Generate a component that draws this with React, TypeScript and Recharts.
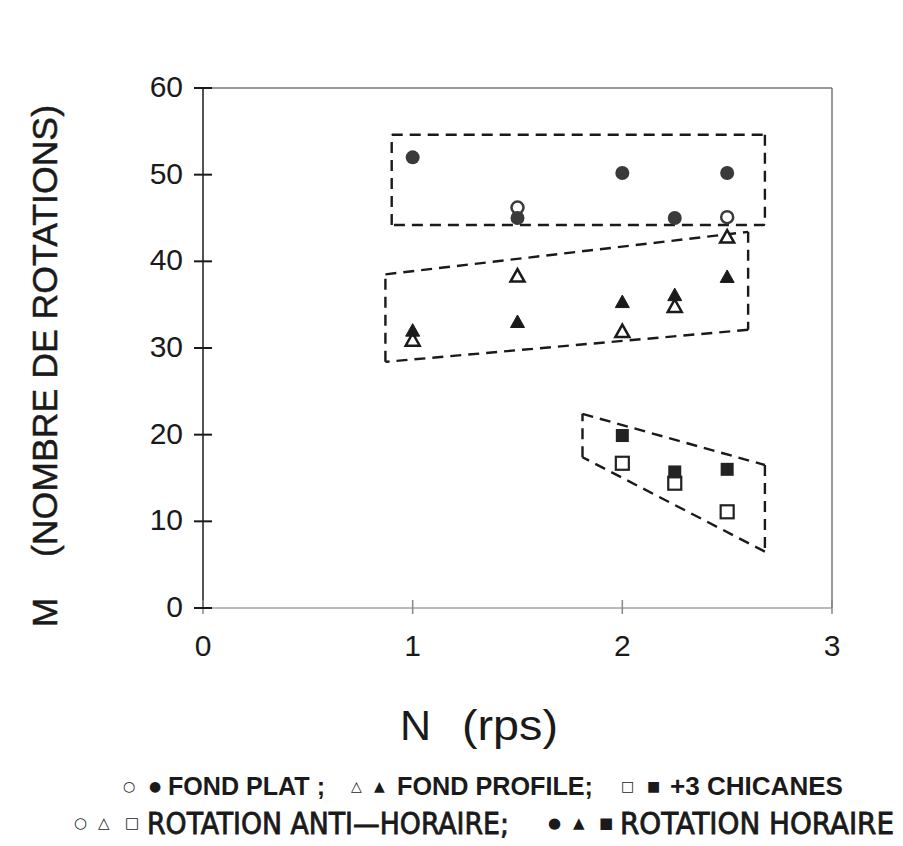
import React from "react";
import {
  ReferenceLine,
  Scatter,
  ScatterChart,
  XAxis,
  YAxis,
} from "recharts";

// N (rps) / M (nombre de rotations)
const N_PLAT_HOR = [1, 1.5, 2, 2.25, 2.5];
const M_PLAT_HOR = [52, 45, 50.2, 45, 50.2];
const N_PLAT_ANTI = [1.5, 2.5];
const M_PLAT_ANTI = [46.2, 45.1];

const N_PROF_HOR = [1, 1.5, 2, 2.25, 2.5];
const M_PROF_HOR = [32, 33, 35.3, 36.1, 38.2];
const N_PROF_ANTI = [1, 1.5, 2, 2.25, 2.5];
const M_PROF_ANTI = [30.9, 38.3, 31.9, 34.8, 42.8];

const N_CHIC_HOR = [2, 2.25, 2.5];
const M_CHIC_HOR = [19.9, 15.7, 16];
const N_CHIC_ANTI = [2, 2.25, 2.5];
const M_CHIC_ANTI = [16.7, 14.4, 11.1];

// dashed envelopes (closed polygons)
const ZONE_PLAT_N = [0.9, 2.68, 2.68, 0.9, 0.9];
const ZONE_PLAT_M = [54.6, 54.6, 44.2, 44.2, 54.6];
const ZONE_PROF_N = [0.87, 2.6, 2.6, 0.87, 0.87];
const ZONE_PROF_M = [38.5, 43.4, 32.1, 28.4, 38.5];
const ZONE_CHIC_N = [1.81, 2.68, 2.68, 1.81, 1.81];
const ZONE_CHIC_M = [22.4, 16.5, 6.5, 17.4, 22.4];

const X_TICKS = [0, 1, 2, 3];
const Y_TICKS = [0, 10, 20, 30, 40, 50, 60];

const pts = (n: number[], m: number[]) => n.map((v, i) => ({ n: v, m: m[i] }));
const segs = (n: number[], m: number[]) =>
  n.slice(1).map((v, i) => [
    { x: n[i], y: m[i] },
    { x: v, y: m[i + 1] },
  ]);

const INK = "#1a1a1a";
const FONT = "'Liberation Sans', Arial, sans-serif";
const NARROW = "'Liberation Sans Narrow', 'DejaVu Sans Condensed', sans-serif";
const SYM = "'DejaVu Sans', sans-serif";

const dot = (filled: boolean) => (p: any) => (
  <circle
    cx={p.cx}
    cy={p.cy}
    r={filled ? 7 : 6}
    fill={filled ? "#3a3a3a" : "none"}
    stroke="#3a3a3a"
    strokeWidth={filled ? 0 : 2.5}
  />
);

const tri = (filled: boolean) => (p: any) => (
  <path
    d={`M${p.cx},${p.cy - 7} L${p.cx + 7},${p.cy + 5.5} L${p.cx - 7},${p.cy + 5.5} Z`}
    fill={filled ? INK : "#fff"}
    stroke={INK}
    strokeWidth={filled ? 1 : 2.5}
  />
);

const sq = (filled: boolean) => (p: any) => (
  <rect
    x={p.cx - 6.5}
    y={p.cy - 6.5}
    width={13}
    height={13}
    fill={filled ? "#222" : "#fff"}
    stroke="#222"
    strokeWidth={filled ? 0 : 2.2}
  />
);

// tick label plus a mark that crosses the axis
const YTick = (p: any) => (
  <g>
    <line x1={p.x + 7} x2={p.x + 25} y1={p.y} y2={p.y} stroke={INK} strokeWidth={2} />
    <text x={p.x - 4} y={p.y} dy={9} textAnchor="end" fontSize={30} fontFamily={FONT} fill={INK}>
      {p.payload.value}
    </text>
  </g>
);

const XTick = (p: any) => (
  <g>
    <line x1={p.x} x2={p.x} y1={p.y - 16} y2={p.y - 2} stroke="#888" strokeWidth={1.5} />
    <text x={p.x} y={p.y} dy={40} textAnchor="middle" fontSize={30} fontFamily={FONT} fill={INK}>
      {p.payload.value}
    </text>
  </g>
);

export default function App() {
  const zones = [
    ...segs(ZONE_PLAT_N, ZONE_PLAT_M),
    ...segs(ZONE_PROF_N, ZONE_PROF_M),
    ...segs(ZONE_CHIC_N, ZONE_CHIC_M),
  ];
  return (
    <div style={{ position: "relative", width: 887, height: 830, background: "#fff" }}>
      <ScatterChart
        width={880}
        height={660}
        margin={{ top: 80, right: 56, bottom: 20, left: 135 }}
      >
        <XAxis
          type="number"
          dataKey="n"
          domain={[0, 3]}
          ticks={X_TICKS}
          height={40}
          stroke="#777"
          tickSize={6}
          tickMargin={2}
          tickLine={false}
          tick={<XTick />}
        />
        <YAxis
          type="number"
          dataKey="m"
          domain={[0, 60]}
          ticks={Y_TICKS}
          width={60}
          stroke={INK}
          strokeWidth={1.5}
          tickSize={8}
          tickMargin={8}
          tickLine={false}
          tick={<YTick />}
        />
        <ReferenceLine y={60} stroke="#777" strokeWidth={1.5} />
        <ReferenceLine x={3} stroke="#777" strokeWidth={1.5} />
        {zones.map((s, i) => (
          <ReferenceLine
            key={i}
            segment={s}
            stroke={INK}
            strokeWidth={2.4}
            strokeDasharray="11 7"
          />
        ))}
        <Scatter data={pts(N_PLAT_HOR, M_PLAT_HOR)} shape={dot(true)} isAnimationActive={false} />
        <Scatter data={pts(N_PLAT_ANTI, M_PLAT_ANTI)} shape={dot(false)} isAnimationActive={false} />
        <Scatter data={pts(N_PROF_ANTI, M_PROF_ANTI)} shape={tri(false)} isAnimationActive={false} />
        <Scatter data={pts(N_PROF_HOR, M_PROF_HOR)} shape={tri(true)} isAnimationActive={false} />
        <Scatter data={pts(N_CHIC_ANTI, M_CHIC_ANTI)} shape={sq(false)} isAnimationActive={false} />
        <Scatter data={pts(N_CHIC_HOR, M_CHIC_HOR)} shape={sq(true)} isAnimationActive={false} />
      </ScatterChart>

      {/* axis titles and legend, in page coordinates */}
      <svg
        width={903}
        height={846}
        style={{ position: "absolute", left: -8, top: -8, pointerEvents: "none" }}
      >
        <g transform="rotate(-90)" fill={INK} stroke={INK} strokeWidth={0.5} fontFamily={FONT} fontSize={35}>
          <text x={-627} y={57}>M</text>
          <text x={-557} y={57} textLength={452} lengthAdjust="spacingAndGlyphs">
            (NOMBRE DE ROTATIONS)
          </text>
        </g>

        <g fill={INK} fontFamily={FONT} fontSize={43}>
          <text x={400} y={740}>N</text>
          <text x={462} y={740} textLength={96} lengthAdjust="spacingAndGlyphs">(rps)</text>
        </g>

        <g fill={INK}>
          <g fontFamily={SYM} fontSize={14} fontWeight="bold">
            <text x={123} y={791}>○</text>
            <text x={149} y={791}>●</text>
            <text x={351} y={791}>△</text>
            <text x={374} y={791}>▲</text>
            <text x={621} y={791}>□</text>
            <text x={647} y={791}>■</text>
          </g>
          <g fontFamily={FONT} fontWeight="bold" fontSize={25.5}>
            <text x={168} y={795} textLength={157} lengthAdjust="spacingAndGlyphs">FOND PLAT ;</text>
            <text x={397} y={795} textLength={196} lengthAdjust="spacingAndGlyphs">FOND PROFILE;</text>
            <text x={670} y={795} textLength={173} lengthAdjust="spacingAndGlyphs">+3 CHICANES</text>
          </g>

          <g fontFamily={SYM} fontSize={15} fontWeight="bold">
            <text x={74} y={828}>○</text>
            <text x={98} y={828}>△</text>
            <text x={125} y={828}>□</text>
            <text x={548} y={828}>●</text>
            <text x={573} y={828}>▲</text>
            <text x={599} y={828}>■</text>
          </g>
          <g fontFamily={NARROW} fontSize={31} stroke={INK} strokeWidth={0.8}>
            <text x={147} y={834} textLength={362} lengthAdjust="spacingAndGlyphs">
              ROTATION ANTI—HORAIRE;
            </text>
            <text x={620} y={834} textLength={274} lengthAdjust="spacingAndGlyphs">
              ROTATION HORAIRE
            </text>
          </g>
        </g>
      </svg>
    </div>
  );
}
